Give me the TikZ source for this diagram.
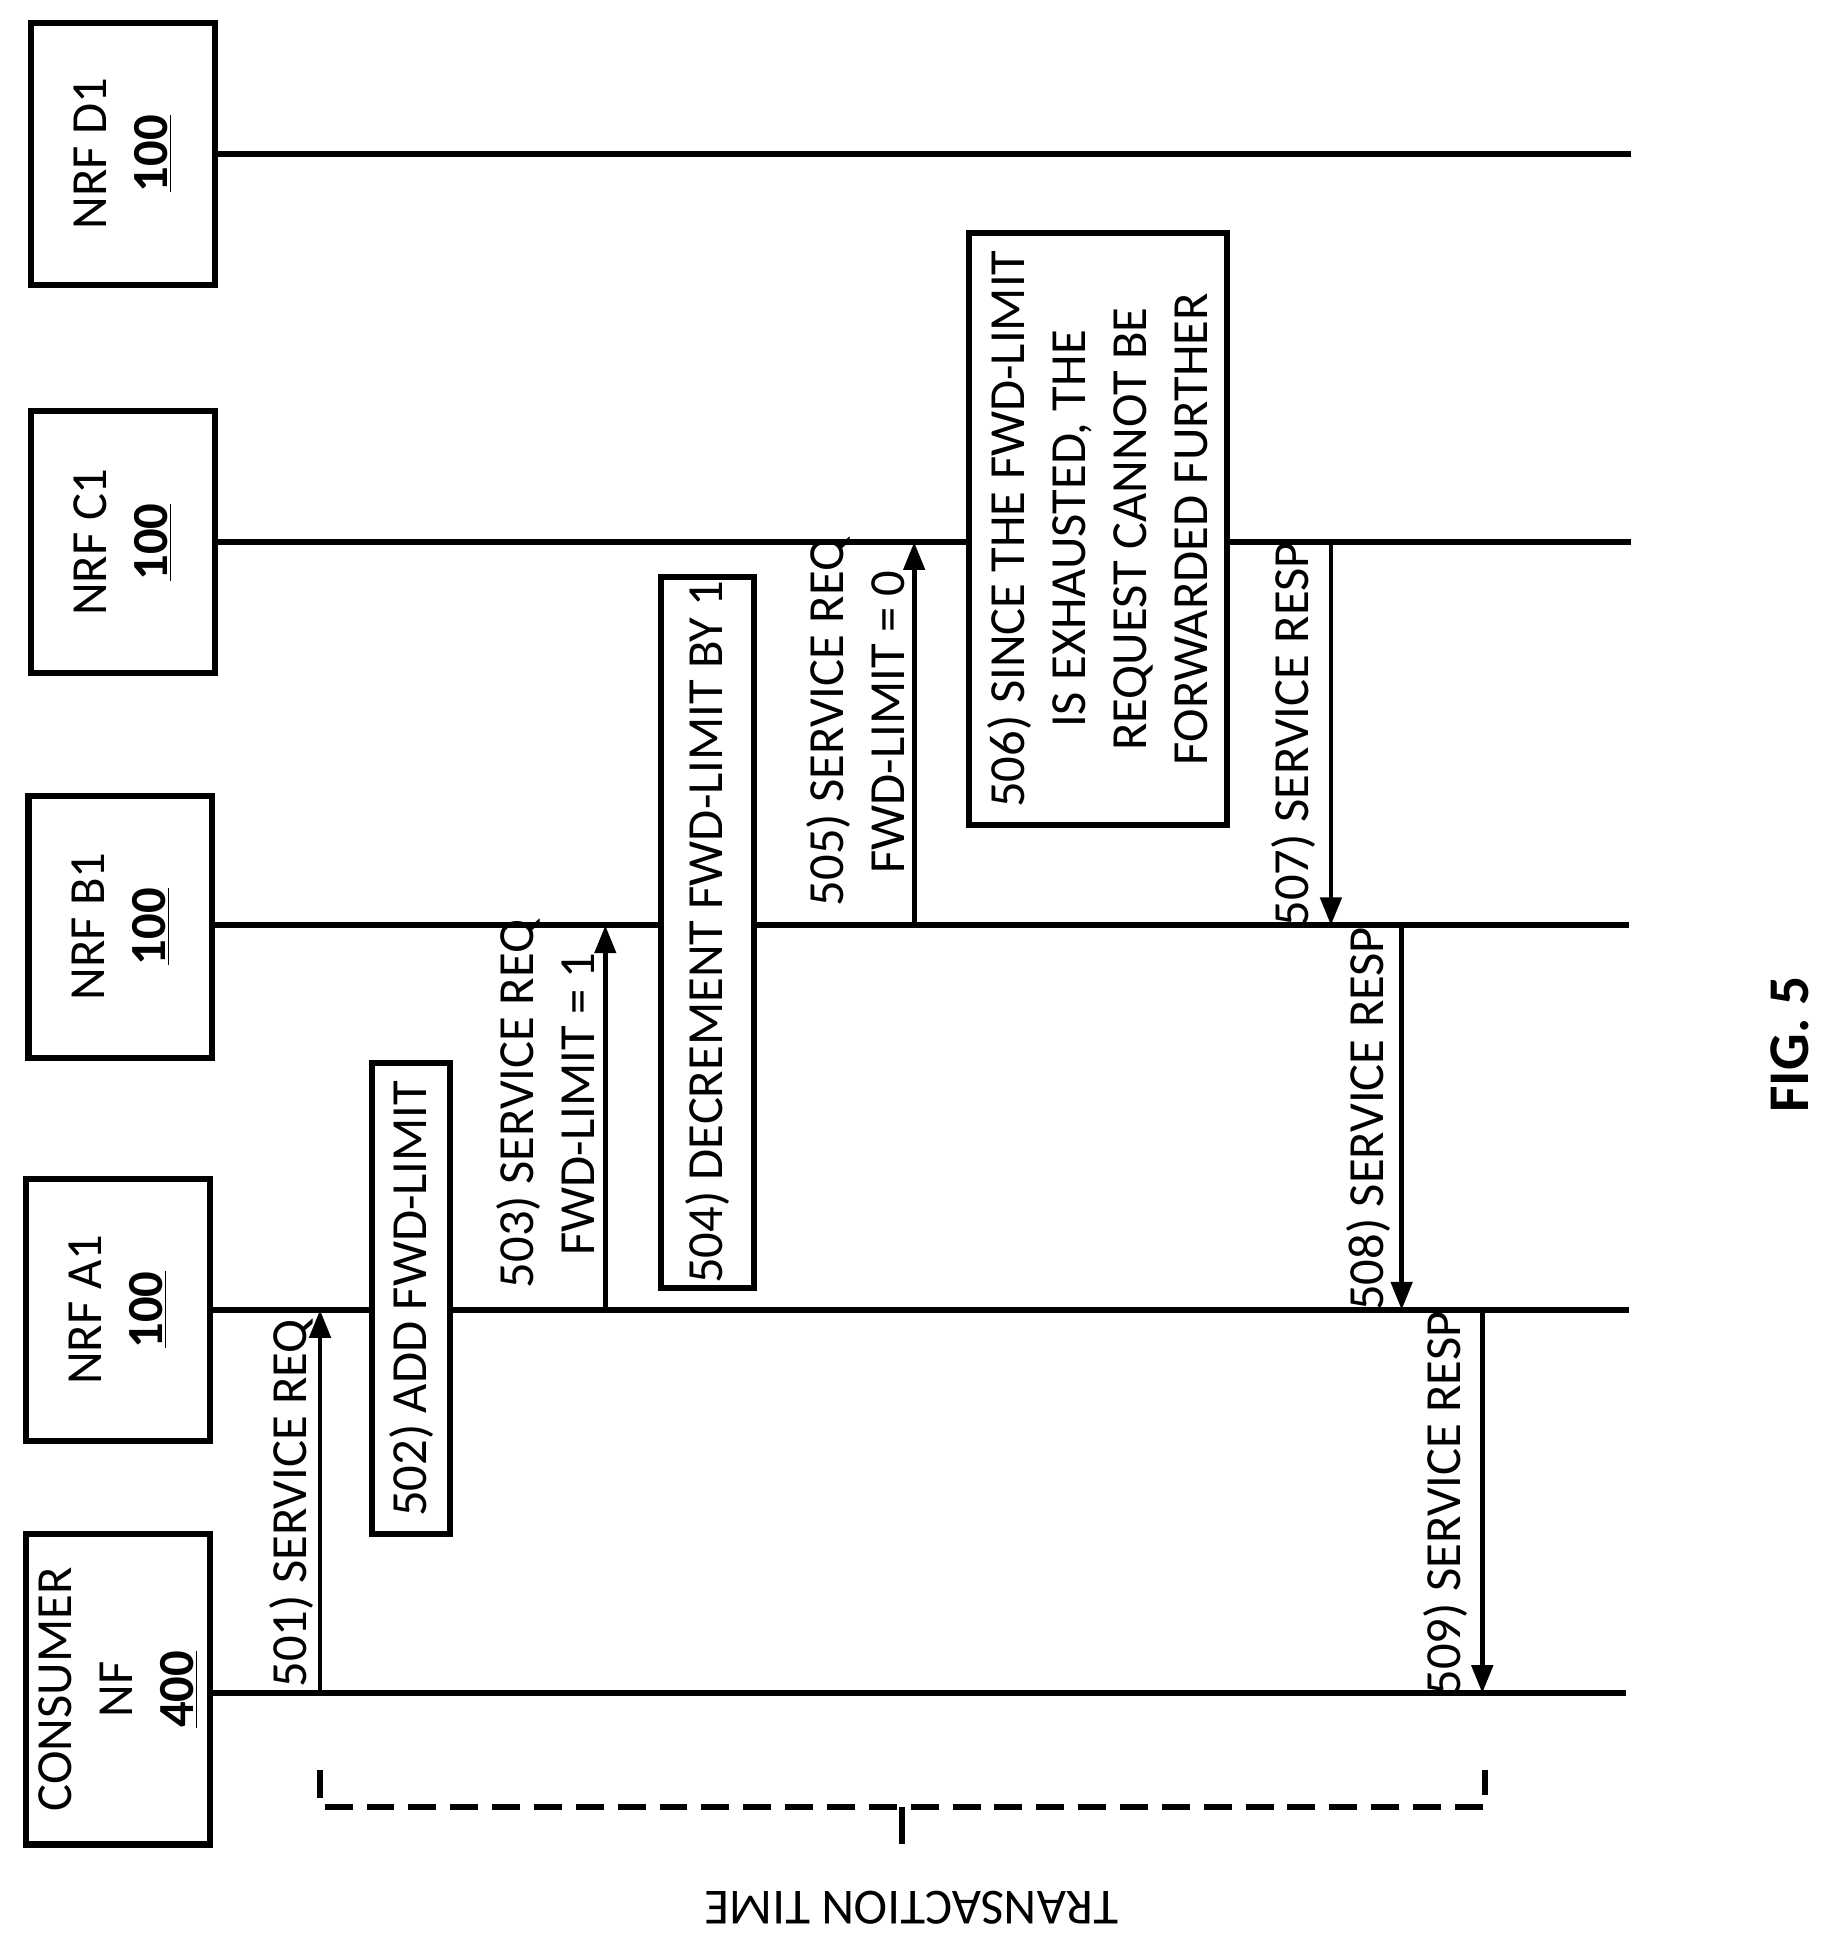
\documentclass[tikz,border=0pt]{standalone}
\usepackage{fontspec}
\setmainfont{Carlito}
\usetikzlibrary{arrows.meta}
\tikzset{
  ent/.style={draw,line width=3.5pt,fill=white,rotate=90,align=center,minimum width=5.28cm,minimum height=3.7cm,inner sep=0pt},
  proc/.style={draw,line width=3.5pt,fill=white,rotate=90,align=center,inner sep=0pt},
  life/.style={line width=3.5pt},
  msg/.style={line width=2.8pt,-{Triangle[length=16pt,width=12pt]}},
  lbl/.style={rotate=90,align=center}
}
\begin{document}
\begin{tikzpicture}[x=0.025cm,y=-0.025cm,font=\fontsize{29}{35}\selectfont]
	\useasboundingbox (0,0) rectangle (1470,1560);

	% lifelines
	\draw[life] (173,124) -- (1315,124);
	\draw[life] (173,437) -- (1315,437);
	\draw[life] (171,746) -- (1313,746);
	\draw[life] (169,1056) -- (1313,1056);
	\draw[life] (169,1365) -- (1311,1365);

	\node[ent] (d1) at (99,124) {NRF D1\\\textbf{\underline{100}}};
	\node[ent] (c1) at (99,437) {NRF C1\\\textbf{\underline{100}}};
	\node[ent] (b1) at (97,747) {NRF B1\\\textbf{\underline{100}}};
	\node[ent] (a1) at (95,1056) {NRF A1\\\textbf{\underline{100}}};
	\node[ent,minimum width=6.25cm] (nf) at (95,1362) {CONSUMER\\NF\\\textbf{\underline{400}}};

	% points on the lifelines
	\coordinate (p501) at (258,1365);
	\coordinate (q501) at (258,1056);
	\coordinate (p503) at (488,1056);
	\coordinate (q503) at (488,746);
	\coordinate (p505) at (737,746);
	\coordinate (q505) at (737,437);
	\coordinate (p507) at (1073,437);
	\coordinate (q507) at (1073,746);
	\coordinate (p508) at (1130,746);
	\coordinate (q508) at (1130,1056);
	\coordinate (p509) at (1195,1056);
	\coordinate (q509) at (1195,1365);

	\node[proc,minimum width=9.5cm,minimum height=1.575cm] (s502) at (331.5,1047) {502) ADD FWD-LIMIT};
	\node[proc,minimum width=14.33cm,minimum height=1.875cm] (s504) at (570.5,751.5) {504) DECREMENT FWD-LIMIT BY 1};
	\node[proc,minimum width=11.93cm,minimum height=5.2cm] (s506) at (885,426.5) {506) SINCE THE FWD-LIMIT\\IS EXHAUSTED, THE\\REQUEST CANNOT BE\\FORWARDED FURTHER};

	\draw[msg] (p501) -- (q501);
	\draw[msg] (p503) -- (q503);
	\draw[msg] (p505) -- (q505);
	\draw[msg] (p507) -- (q507);
	\draw[msg] (p508) -- (q508);
	\draw[msg] (p509) -- (q509);

	\node[lbl] (l501) at (235,1212) {501) SERVICE REQ};
	\node[lbl] (l503) at (440,890) {503) SERVICE REQ\\FWD-LIMIT = 1};
	\node[lbl] (l505) at (690,582) {505) SERVICE REQ\\FWD-LIMIT = 0};
	\node[lbl] (l507) at (1043,592) {507) SERVICE RESP};
	\node[lbl] (l508) at (1103,902) {508) SERVICE RESP};
	\node[lbl] (l509) at (1165,1212) {509) SERVICE RESP};

	% transaction time bracket
	\coordinate (t1) at (258,1427);
	\coordinate (t2) at (1197,1427);
	\coordinate (tm) at (727,1457);
	\draw[line width=3.5pt,dash pattern=on 16pt off 8pt] (t1) |- (tm) -| (t2);
	\draw[line width=3.5pt] (tm) -- ++(0,30);
	\node[rotate=180] (tt) at (735,1538) {TRANSACTION TIME};

	\node[rotate=90,font=\fontsize{33}{40}\selectfont\bfseries] (fig) at (1443,842) {FIG. 5};
\end{tikzpicture}
\end{document}
